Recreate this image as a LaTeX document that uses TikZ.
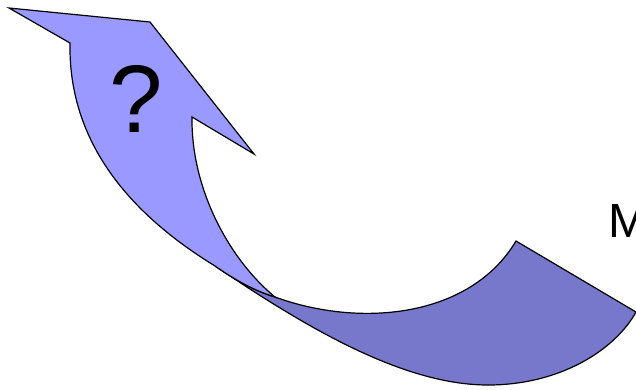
\documentclass[tikz,border=0pt]{standalone}
\usepackage{fontspec}
\setmainfont{Liberation Sans}
\definecolor{lightarrow}{HTML}{9999FF}
\definecolor{darkarrow}{HTML}{7777CC}
\begin{document}
\begin{tikzpicture}[x=1pt,y=-1pt,
  shapeline/.style={draw=black,line width=1.2pt,line join=miter},
  lbl/.style={inner sep=0pt,text=black}]
\useasboundingbox (0,0) rectangle (636,389);
% back (dark) band
\filldraw[shapeline,fill=darkarrow]
  (215,266) .. controls (300,323) and (400,385) .. (488,385)
  .. controls (560,385) and (615,350) .. (636,312)
  -- (516,241)
  .. controls (470,318) and (360,328) .. (275,297)
  .. controls (255,291) and (235,280) .. (215,266) -- cycle;
% front (light) arrow
\filldraw[shapeline,fill=lightarrow]
  (9,8) -- (150,22) -- (254,154) -- (192,117)
  .. controls (191,190) and (230,260) .. (275,297)
  .. controls (255,291) and (235,280) .. (215,266)
  .. controls (140,220) and (68,150) .. (70,43) -- cycle;
\node[lbl,anchor=base,font=\fontsize{96}{110}\selectfont] (q) at (136.5,132) {?};
\node[lbl,anchor=base west,font=\fontsize{48}{56}\selectfont] (m) at (608.5,237) {M};
\end{tikzpicture}
\end{document}
